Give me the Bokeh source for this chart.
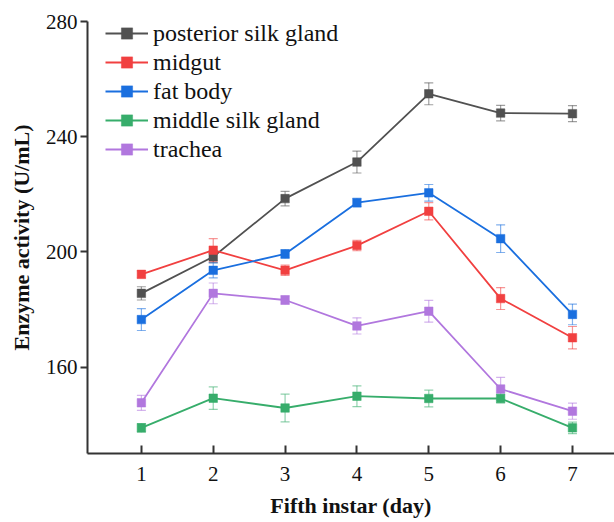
from bokeh.plotting import figure
from bokeh.models import ColumnDataSource, Whisker, TeeHead, FixedTicker, Legend, LegendItem, Range1d
from bokeh.embed import file_html
from bokeh.resources import INLINE

# Enzyme activity (U/mL) over days 1-7 of the fifth instar, mean and error per tissue
days = [1, 2, 3, 4, 5, 6, 7]

posterior_silk_gland = [185.6, 198.3, 218.5, 231.2, 254.9, 248.2, 248.0]
posterior_silk_gland_err = [2.3, 2.0, 2.5, 3.8, 3.8, 2.7, 2.8]

midgut = [192.2, 200.6, 193.6, 202.2, 214.1, 183.8, 170.2]
midgut_err = [1.2, 4.0, 1.8, 1.8, 3.0, 3.8, 3.9]

fat_body = [176.5, 193.6, 199.3, 217.1, 220.5, 204.6, 178.3]
fat_body_err = [3.8, 2.6, 1.5, 1.5, 2.9, 4.8, 3.6]

middle_silk_gland = [138.9, 149.2, 145.8, 149.9, 149.1, 149.1, 138.9]
middle_silk_gland_err = [1.5, 3.9, 4.8, 3.6, 2.9, 1.5, 2.0]

trachea = [147.6, 185.6, 183.3, 174.3, 179.4, 152.4, 144.7]
trachea_err = [2.6, 3.6, 1.5, 2.8, 3.8, 4.0, 2.8]

series = [
    ("posterior silk gland", posterior_silk_gland, posterior_silk_gland_err, "#515151"),
    ("midgut", midgut, midgut_err, "#F14040"),
    ("fat body", fat_body, fat_body_err, "#1A6FDF"),
    ("middle silk gland", middle_silk_gland, middle_silk_gland_err, "#37AD6B"),
    ("trachea", trachea, trachea_err, "#B177DE"),
]

x_ticks = [1, 2, 3, 4, 5, 6, 7]
y_ticks = [160, 200, 240, 280]

SERIF = "Liberation Serif"
AXIS_COLOR = "#333333"

p = figure(
    width=614, height=522,
    output_backend="svg", toolbar_location=None,
    x_range=Range1d(0.25, 7.585), y_range=Range1d(130, 280),
    min_border_left=87, min_border_right=0, min_border_top=21, min_border_bottom=69,
)
p.outline_line_color = None
p.grid.visible = False
p.background_fill_color = "white"
p.border_fill_color = "white"

items = []
for name, vals, errs, color in series:
    lower = [v - e for v, e in zip(vals, errs)]
    upper = [v + e for v, e in zip(vals, errs)]
    src = ColumnDataSource(dict(x=days, y=vals, lower=lower, upper=upper))
    w = Whisker(
        source=src, base="x", lower="lower", upper="upper",
        line_color=color, line_alpha=0.55, line_width=1.2,
        upper_head=TeeHead(size=9, line_color=color, line_alpha=0.55, line_width=1.2),
        lower_head=TeeHead(size=9, line_color=color, line_alpha=0.55, line_width=1.2),
    )
    p.add_layout(w)
    lr = p.line("x", "y", source=src, line_color=color, line_width=1.8)
    sr = p.scatter("x", "y", source=src, marker="square", size=8.5,
                   fill_color=color, line_color=color, line_width=0.5)
    items.append(LegendItem(label=name, renderers=[lr, sr]))

legend = Legend(
    items=items,
    location=(18, 290),
    margin=0, padding=0,
    glyph_width=43, glyph_height=28, label_height=28, label_standoff=5,
    label_text_font=SERIF, label_text_font_size="24px", label_text_color="#111111",
    spacing=1,
    border_line_alpha=0, background_fill_alpha=0,
)
p.add_layout(legend)

# axes
p.xaxis.ticker = FixedTicker(ticks=x_ticks)
p.yaxis.ticker = FixedTicker(ticks=y_ticks)
for ax in (p.xaxis[0], p.yaxis[0]):
    ax.axis_line_width = 2
    ax.axis_line_color = AXIS_COLOR
    ax.major_tick_line_color = AXIS_COLOR
    ax.major_tick_line_width = 2
    ax.minor_tick_line_color = None
    ax.major_label_text_font = SERIF
    ax.major_label_text_font_size = "21px"
    ax.major_label_text_color = "#111111"
    ax.axis_label_text_font = SERIF
    ax.axis_label_text_font_size = "22px"
    ax.axis_label_text_font_style = "bold"
    ax.axis_label_text_color = "#111111"

p.xaxis.major_tick_in = 8
p.xaxis.major_tick_out = 0
p.xaxis.major_label_standoff = 13
p.xaxis.axis_label = "Fifth instar (day)"
p.xaxis.axis_label_standoff = 9

p.yaxis.major_tick_in = 0
p.yaxis.major_tick_out = 7
p.yaxis.major_label_standoff = 3
p.yaxis.axis_label = "Enzyme activity (U/mL)"
p.yaxis.axis_label_standoff = 9

open("out.html", "w").write(file_html(p, INLINE))
